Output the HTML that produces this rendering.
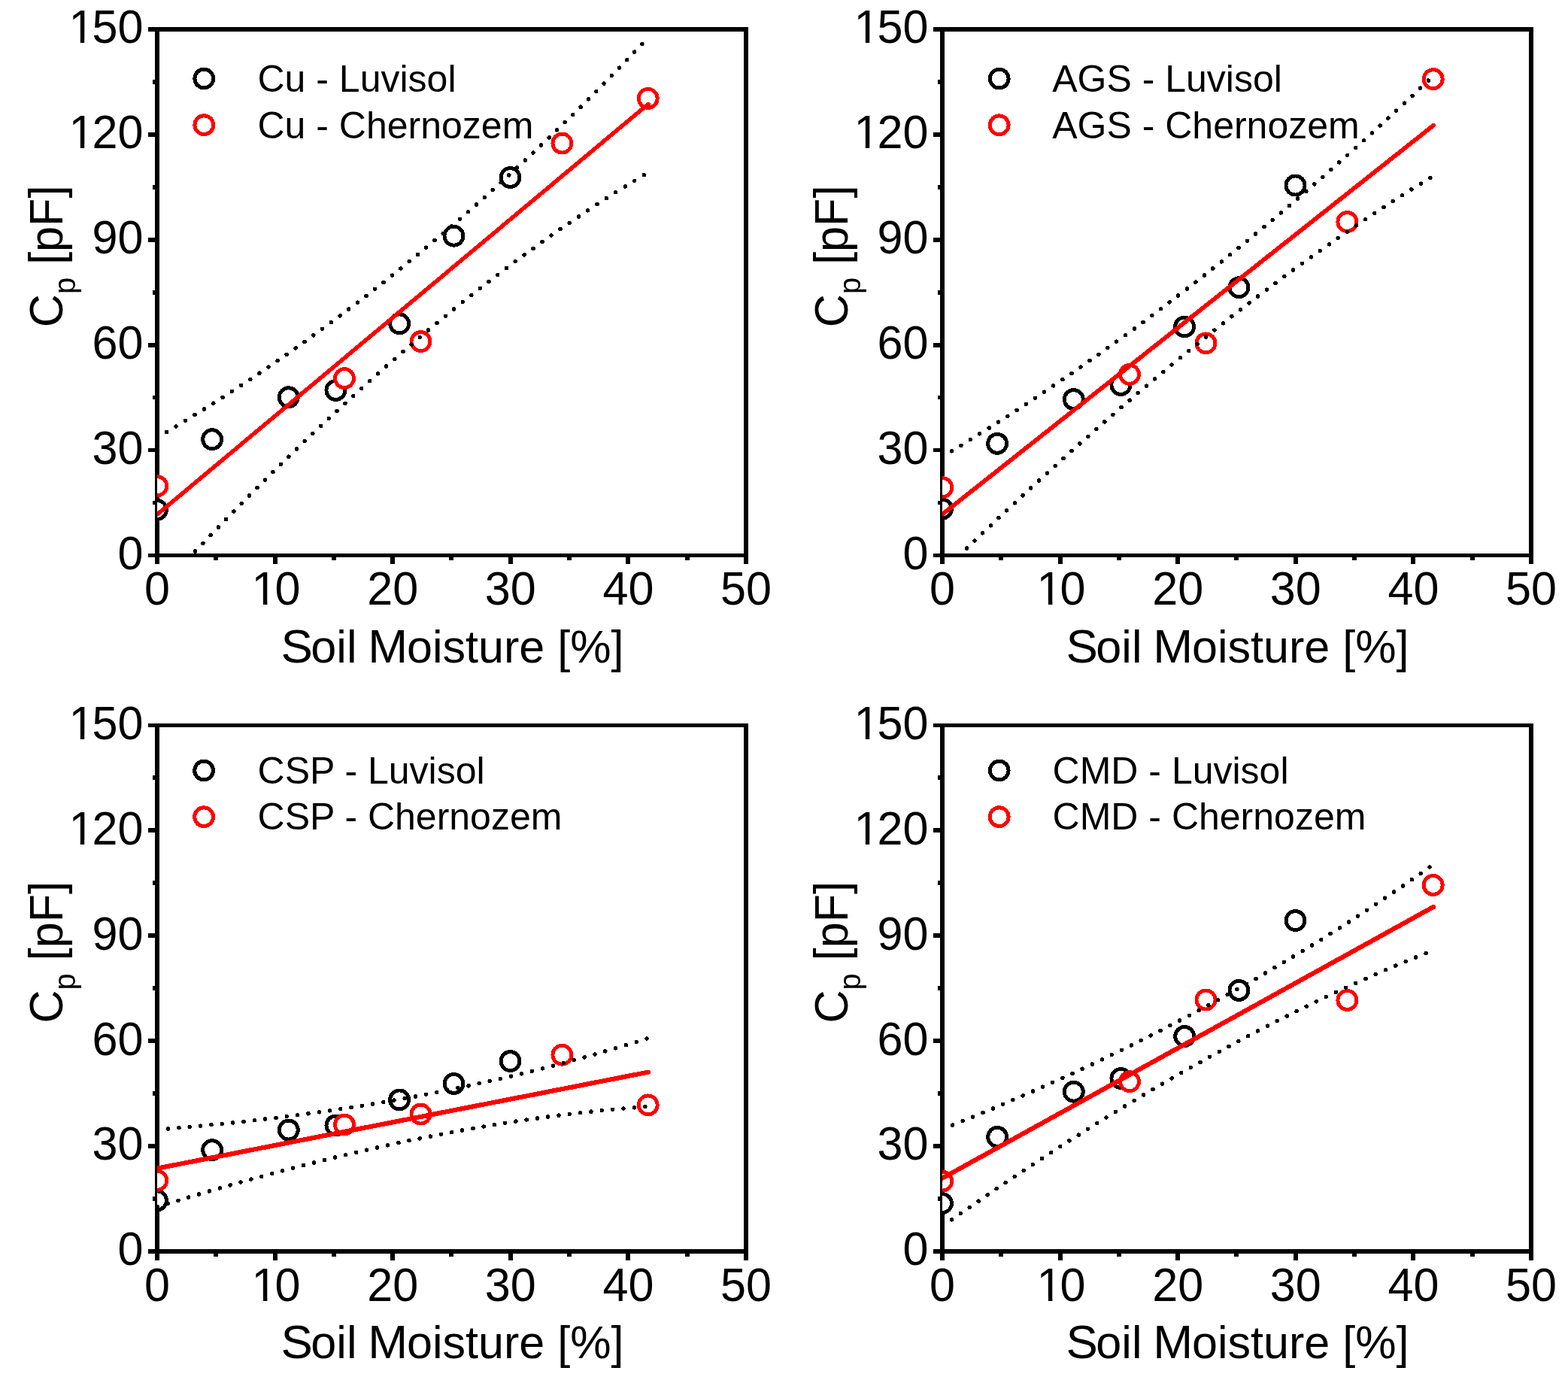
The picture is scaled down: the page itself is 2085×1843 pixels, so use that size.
<!DOCTYPE html>
<html lang="en"><head><meta charset="utf-8"><title>Cp vs Soil Moisture</title>
<style>html,body{margin:0;padding:0;background:#fff}svg{display:block}text{font-family:"Liberation Sans",Arial,Helvetica,sans-serif;fill:#000}</style></head><body>
<svg width="2085" height="1843" viewBox="0 0 2085 1843">
<rect width="2085" height="1843" fill="#fff"/>
<g id="panel-cu">
<path d="M206 36H212V741H206ZM989 36H995V741H989ZM206 36H995V42H206ZM206 736H995V741H206ZM197 736H209V741H197ZM203 665.73H209V671.43H203ZM197 595.76H209V601.46H197ZM203 525.79H209V531.49H203ZM197 455.82H209V461.52H197ZM203 385.85H209V391.55H203ZM197 315.88H209V321.58H197ZM203 245.91H209V251.61H203ZM197 175.94H209V181.64H197ZM203 105.97H209V111.67H203ZM197 36H209V42H197ZM206 736H212V750H206ZM284 736H290V745H284ZM363 736H369V750H363ZM441 736H447V745H441ZM519 736H525V750H519ZM597 736H603V745H597ZM676 736H682V750H676ZM754 736H760V745H754ZM832 736H838V750H832ZM911 736H917V745H911ZM989 736H995V750H989Z" fill="#000" shape-rendering="crispEdges"/>
<clipPath id="c1"><rect x="209" y="39" width="783" height="699.7"/></clipPath>
<g clip-path="url(#c1)" shape-rendering="crispEdges">
<circle cx="209" cy="677.99" r="12.5" fill="#fff" stroke="#000" stroke-width="4.9"/>
<circle cx="282.13" cy="584.23" r="12.5" fill="#fff" stroke="#000" stroke-width="4.9"/>
<circle cx="383.77" cy="528.26" r="12.5" fill="#fff" stroke="#000" stroke-width="4.9"/>
<circle cx="446.41" cy="518.93" r="12.5" fill="#fff" stroke="#000" stroke-width="4.9"/>
<circle cx="531.13" cy="430.3" r="12.5" fill="#fff" stroke="#000" stroke-width="4.9"/>
<circle cx="603.48" cy="313.68" r="12.5" fill="#fff" stroke="#000" stroke-width="4.9"/>
<circle cx="678.49" cy="236.02" r="12.5" fill="#fff" stroke="#000" stroke-width="4.9"/>
<circle cx="209.31" cy="646.27" r="12.5" fill="#fff" stroke="#f00" stroke-width="4.9"/>
<circle cx="457.99" cy="503.07" r="12.5" fill="#fff" stroke="#f00" stroke-width="4.9"/>
<circle cx="559.47" cy="454.09" r="12.5" fill="#fff" stroke="#f00" stroke-width="4.9"/>
<circle cx="747.39" cy="190.54" r="12.5" fill="#fff" stroke="#f00" stroke-width="4.9"/>
<circle cx="861.71" cy="130.83" r="12.5" fill="#fff" stroke="#f00" stroke-width="4.9"/>
<path d="M209 684.12L862.02 138.36" stroke="#f00" stroke-width="5.5" stroke-linecap="round" fill="none"/>
<path d="M209 581.81L222.09 574.09L235.19 566.27L248.28 558.33L261.37 550.28L274.47 542.12L287.56 533.84L300.65 525.45L313.75 516.94L326.84 508.32L339.93 499.59L353.02 490.73L366.12 481.76L379.21 472.67L392.3 463.46L405.4 454.14L418.49 444.69L431.58 435.13L444.68 425.44L457.77 415.63L470.86 405.7L483.96 395.65L497.05 385.47L510.14 375.17L523.24 364.74L536.33 354.2L549.42 343.52L562.52 332.72L575.61 321.79L588.7 310.73L601.8 299.55L614.89 288.24L627.98 276.8L641.07 265.22L654.17 253.52L667.26 241.69L680.35 229.72L693.45 217.63L706.54 205.4L719.63 193.03L732.73 180.53L745.82 167.9L758.91 155.14L772.01 142.23L785.1 129.19L798.19 116.02L811.29 102.7L824.38 89.25L837.47 75.66L850.57 61.93L862.02 49.8" stroke="#000" stroke-width="5.5" stroke-linecap="round" stroke-dasharray="0 14.620" stroke-dashoffset="0.11" fill="none"/>
<path d="M209 787.36L222.09 773.19L235.19 759.13L248.28 745.18L261.37 731.34L274.47 717.6L287.56 703.98L300.65 690.46L313.75 677.06L326.84 663.78L339.93 650.6L353.02 637.54L366.12 624.6L379.21 611.78L392.3 599.07L405.4 586.48L418.49 574.01L431.58 561.67L444.68 549.44L457.77 537.34L470.86 525.36L483.96 513.5L497.05 501.78L510.14 490.17L523.24 478.7L536.33 467.35L549.42 456.14L562.52 445.05L575.61 434.1L588.7 423.27L601.8 412.58L614.89 402.03L627.98 391.61L641.07 381.33L654.17 371.18L667.26 361.17L680.35 351.3L693.45 341.57L706.54 331.99L719.63 322.54L732.73 313.24L745.82 304.08L758.91 295.06L772.01 286.19L785.1 277.47L798.19 268.9L811.29 260.47L824.38 252.19L837.47 244.07L850.57 236.09L862.02 229.24" stroke="#000" stroke-width="5.5" stroke-linecap="round" stroke-dasharray="0 14.738" stroke-dashoffset="14.11" fill="none"/>
</g>
<text transform="translate(190.4 757.1) scale(1 1.03)" font-size="61.1" text-anchor="end">0</text>
<text transform="translate(190.4 617.16) scale(1 1.03)" font-size="61.1" text-anchor="end">30</text>
<text transform="translate(190.4 477.22) scale(1 1.03)" font-size="61.1" text-anchor="end">60</text>
<text transform="translate(190.4 337.28) scale(1 1.03)" font-size="61.1" text-anchor="end">90</text>
<text transform="translate(88.46 197.34) scale(1 1.03)" font-size="61.1"><tspan dx="3.0">1</tspan><tspan dx="-3.0">20</tspan></text>
<path d="M92.46 192.04H106.82V198.34H92.46ZM112.22 192.04H123.64V198.34H112.22Z" fill="#fff"/>
<text transform="translate(88.46 57.4) scale(1 1.03)" font-size="61.1"><tspan dx="3.0">1</tspan><tspan dx="-3.0">50</tspan></text>
<path d="M92.46 52.1H106.82V58.4H92.46ZM112.22 52.1H123.64V58.4H112.22Z" fill="#fff"/>
<text transform="translate(209 804.1) scale(1 1.03)" font-size="61.1" text-anchor="middle">0</text>
<text transform="translate(331.62 804.1) scale(1 1.03)" font-size="61.1"><tspan dx="3.0">1</tspan><tspan dx="-3.0">0</tspan></text>
<path d="M335.62 798.8H349.98V805.1H335.62ZM355.38 798.8H366.8V805.1H355.38Z" fill="#fff"/>
<text transform="translate(522.2 804.1) scale(1 1.03)" font-size="61.1" text-anchor="middle">20</text>
<text transform="translate(678.8 804.1) scale(1 1.03)" font-size="61.1" text-anchor="middle">30</text>
<text transform="translate(835.4 804.1) scale(1 1.03)" font-size="61.1" text-anchor="middle">40</text>
<text transform="translate(992 804.1) scale(1 1.03)" font-size="61.1" text-anchor="middle">50</text>
<text transform="translate(371.3 880.9)" font-size="61.1"><tspan dx="2.1" font-size="63.5">S</tspan><tspan dx="-2.4">oil </tspan><tspan dx="-2.1" font-size="63.5">M</tspan><tspan dx="-1.3">oisture [%]</tspan></text>
<text transform="translate(83 435.2) rotate(-90) scale(1 1.02)" font-size="61.1">C<tspan font-size="40.0" dy="17">p</tspan><tspan dy="-17"> [pF]</tspan></text>
<circle cx="271.3" cy="104.5" r="12.4" fill="#fff" stroke="#000" stroke-width="5" shape-rendering="crispEdges"/>
<circle cx="271.3" cy="166.2" r="12.4" fill="#fff" stroke="#f00" stroke-width="5" shape-rendering="crispEdges"/>
<text transform="translate(342.5 122.2)" font-size="50.0">Cu - Luvisol</text>
<text transform="translate(342.5 183.8)" font-size="50.0">Cu - Chernozem</text>
</g>
<g id="panel-ags">
<path d="M1250 36H1256V741H1250ZM2033 36H2039V741H2033ZM1250 36H2039V42H1250ZM1250 736H2039V741H1250ZM1241 736H1253V741H1241ZM1247 665.73H1253V671.43H1247ZM1241 595.76H1253V601.46H1241ZM1247 525.79H1253V531.49H1247ZM1241 455.82H1253V461.52H1241ZM1247 385.85H1253V391.55H1247ZM1241 315.88H1253V321.58H1241ZM1247 245.91H1253V251.61H1247ZM1241 175.94H1253V181.64H1241ZM1247 105.97H1253V111.67H1247ZM1241 36H1253V42H1241ZM1250 736H1256V750H1250ZM1328 736H1334V745H1328ZM1407 736H1413V750H1407ZM1485 736H1491V745H1485ZM1563 736H1569V750H1563ZM1641 736H1647V745H1641ZM1720 736H1726V750H1720ZM1798 736H1804V745H1798ZM1876 736H1882V750H1876ZM1955 736H1961V745H1955ZM2033 736H2039V750H2033Z" fill="#000" shape-rendering="crispEdges"/>
<clipPath id="c2"><rect x="1253" y="39" width="783" height="699.7"/></clipPath>
<g clip-path="url(#c2)" shape-rendering="crispEdges">
<circle cx="1253" cy="676.59" r="12.5" fill="#fff" stroke="#000" stroke-width="4.9"/>
<circle cx="1326.13" cy="589.83" r="12.5" fill="#fff" stroke="#000" stroke-width="4.9"/>
<circle cx="1427.77" cy="531.06" r="12.5" fill="#fff" stroke="#000" stroke-width="4.9"/>
<circle cx="1490.41" cy="511.93" r="12.5" fill="#fff" stroke="#000" stroke-width="4.9"/>
<circle cx="1575.13" cy="434.5" r="12.5" fill="#fff" stroke="#000" stroke-width="4.9"/>
<circle cx="1647.48" cy="382.25" r="12.5" fill="#fff" stroke="#000" stroke-width="4.9"/>
<circle cx="1722.49" cy="246.51" r="12.5" fill="#fff" stroke="#000" stroke-width="4.9"/>
<circle cx="1253.31" cy="648.14" r="12.5" fill="#fff" stroke="#f00" stroke-width="4.9"/>
<circle cx="1501.99" cy="497.94" r="12.5" fill="#fff" stroke="#f00" stroke-width="4.9"/>
<circle cx="1603.47" cy="456.42" r="12.5" fill="#fff" stroke="#f00" stroke-width="4.9"/>
<circle cx="1791.39" cy="295.02" r="12.5" fill="#fff" stroke="#f00" stroke-width="4.9"/>
<circle cx="1905.71" cy="105.17" r="12.5" fill="#fff" stroke="#f00" stroke-width="4.9"/>
<path d="M1253 683.89L1906.02 166.81" stroke="#f00" stroke-width="5.8" stroke-linecap="round" fill="none"/>
<path d="M1253 607.26L1266.09 599.39L1279.19 591.42L1292.28 583.36L1305.37 575.21L1318.47 566.97L1331.56 558.63L1344.65 550.21L1357.75 541.68L1370.84 533.07L1383.93 524.36L1397.02 515.56L1410.12 506.66L1423.21 497.67L1436.3 488.59L1449.4 479.42L1462.49 470.15L1475.58 460.79L1488.68 451.33L1501.77 441.79L1514.86 432.14L1527.96 422.41L1541.05 412.58L1554.14 402.66L1567.24 392.64L1580.33 382.53L1593.42 372.32L1606.52 362.03L1619.61 351.63L1632.7 341.15L1645.8 330.57L1658.89 319.89L1671.98 309.13L1685.07 298.26L1698.17 287.31L1711.26 276.26L1724.35 265.11L1737.45 253.87L1750.54 242.54L1763.63 231.11L1776.73 219.59L1789.82 207.98L1802.91 196.27L1816.01 184.46L1829.1 172.56L1842.19 160.57L1855.29 148.48L1868.38 136.29L1881.47 124.01L1894.57 111.64L1906.02 100.73" stroke="#000" stroke-width="5.5" stroke-linecap="round" stroke-dasharray="0 14.626" stroke-dashoffset="0.16" fill="none"/>
<path d="M1253 760.31L1266.09 747.64L1279.19 735.04L1292.28 722.51L1305.37 710.05L1318.47 697.66L1331.56 685.35L1344.65 673.11L1357.75 660.94L1370.84 648.86L1383.93 636.85L1397.02 624.91L1410.12 613.06L1423.21 601.29L1436.3 589.61L1449.4 578L1462.49 566.48L1475.58 555.05L1488.68 543.7L1501.77 532.44L1514.86 521.27L1527.96 510.19L1541.05 499.2L1554.14 488.3L1567.24 477.49L1580.33 466.78L1593.42 456.17L1606.52 445.65L1619.61 435.23L1632.7 424.91L1645.8 414.68L1658.89 404.56L1671.98 394.54L1685.07 384.63L1698.17 374.81L1711.26 365.11L1724.35 355.51L1737.45 346.02L1750.54 336.63L1763.63 327.36L1776.73 318.2L1789.82 309.14L1802.91 300.21L1816.01 291.38L1829.1 282.67L1842.19 274.08L1855.29 265.61L1868.38 257.25L1881.47 249.02L1894.57 240.9L1906.02 233.9" stroke="#000" stroke-width="5.5" stroke-linecap="round" stroke-dasharray="0 14.640" stroke-dashoffset="13.56" fill="none"/>
</g>
<text transform="translate(1234.4 757.1) scale(1 1.03)" font-size="61.1" text-anchor="end">0</text>
<text transform="translate(1234.4 617.16) scale(1 1.03)" font-size="61.1" text-anchor="end">30</text>
<text transform="translate(1234.4 477.22) scale(1 1.03)" font-size="61.1" text-anchor="end">60</text>
<text transform="translate(1234.4 337.28) scale(1 1.03)" font-size="61.1" text-anchor="end">90</text>
<text transform="translate(1132.46 197.34) scale(1 1.03)" font-size="61.1"><tspan dx="3.0">1</tspan><tspan dx="-3.0">20</tspan></text>
<path d="M1136.46 192.04H1150.82V198.34H1136.46ZM1156.22 192.04H1167.64V198.34H1156.22Z" fill="#fff"/>
<text transform="translate(1132.46 57.4) scale(1 1.03)" font-size="61.1"><tspan dx="3.0">1</tspan><tspan dx="-3.0">50</tspan></text>
<path d="M1136.46 52.1H1150.82V58.4H1136.46ZM1156.22 52.1H1167.64V58.4H1156.22Z" fill="#fff"/>
<text transform="translate(1253 804.1) scale(1 1.03)" font-size="61.1" text-anchor="middle">0</text>
<text transform="translate(1375.62 804.1) scale(1 1.03)" font-size="61.1"><tspan dx="3.0">1</tspan><tspan dx="-3.0">0</tspan></text>
<path d="M1379.62 798.8H1393.98V805.1H1379.62ZM1399.38 798.8H1410.8V805.1H1399.38Z" fill="#fff"/>
<text transform="translate(1566.2 804.1) scale(1 1.03)" font-size="61.1" text-anchor="middle">20</text>
<text transform="translate(1722.8 804.1) scale(1 1.03)" font-size="61.1" text-anchor="middle">30</text>
<text transform="translate(1879.4 804.1) scale(1 1.03)" font-size="61.1" text-anchor="middle">40</text>
<text transform="translate(2036 804.1) scale(1 1.03)" font-size="61.1" text-anchor="middle">50</text>
<text transform="translate(1415.3 880.9)" font-size="61.1"><tspan dx="2.1" font-size="63.5">S</tspan><tspan dx="-2.4">oil </tspan><tspan dx="-2.1" font-size="63.5">M</tspan><tspan dx="-1.3">oisture [%]</tspan></text>
<text transform="translate(1127 435.2) rotate(-90) scale(1 1.02)" font-size="61.1">C<tspan font-size="40.0" dy="17">p</tspan><tspan dy="-17"> [pF]</tspan></text>
<circle cx="1328.7" cy="104.6" r="12.4" fill="#fff" stroke="#000" stroke-width="5" shape-rendering="crispEdges"/>
<circle cx="1328.7" cy="166.3" r="12.4" fill="#fff" stroke="#f00" stroke-width="5" shape-rendering="crispEdges"/>
<text transform="translate(1399.2 122)" font-size="50.0">AGS - Luvisol</text>
<text transform="translate(1399.2 183.6)" font-size="50.0">AGS - Chernozem</text>
</g>
<g id="panel-csp">
<path d="M206 962H212V1667H206ZM989 962H995V1667H989ZM206 962H995V967H206ZM206 1661H995V1667H206ZM197 1661H209V1667H197ZM203 1591.03H209V1596.73H203ZM197 1521.06H209V1526.76H197ZM203 1451.09H209V1456.79H203ZM197 1381.12H209V1386.82H197ZM203 1311.15H209V1316.85H203ZM197 1241.18H209V1246.88H197ZM203 1171.21H209V1176.91H203ZM197 1101.24H209V1106.94H197ZM203 1031.27H209V1036.97H203ZM197 962H209V967H197ZM206 1661H212V1676H206ZM284 1661H290V1671H284ZM363 1661H369V1676H363ZM441 1661H447V1671H441ZM519 1661H525V1676H519ZM597 1661H603V1671H597ZM676 1661H682V1676H676ZM754 1661H760V1671H754ZM832 1661H838V1676H832ZM911 1661H917V1671H911ZM989 1661H995V1676H989Z" fill="#000" shape-rendering="crispEdges"/>
<clipPath id="c3"><rect x="209" y="964.3" width="783" height="699.7"/></clipPath>
<g clip-path="url(#c3)" shape-rendering="crispEdges">
<circle cx="209" cy="1596.3" r="12.5" fill="#fff" stroke="#000" stroke-width="4.9"/>
<circle cx="282.13" cy="1529.12" r="12.5" fill="#fff" stroke="#000" stroke-width="4.9"/>
<circle cx="383.77" cy="1502.54" r="12.5" fill="#fff" stroke="#000" stroke-width="4.9"/>
<circle cx="446.41" cy="1496.47" r="12.5" fill="#fff" stroke="#000" stroke-width="4.9"/>
<circle cx="531.13" cy="1462.42" r="12.5" fill="#fff" stroke="#000" stroke-width="4.9"/>
<circle cx="603.48" cy="1440.96" r="12.5" fill="#fff" stroke="#000" stroke-width="4.9"/>
<circle cx="678.49" cy="1411.11" r="12.5" fill="#fff" stroke="#000" stroke-width="4.9"/>
<circle cx="209.31" cy="1569.71" r="12.5" fill="#fff" stroke="#f00" stroke-width="4.9"/>
<circle cx="457.99" cy="1495.54" r="12.5" fill="#fff" stroke="#f00" stroke-width="4.9"/>
<circle cx="559.47" cy="1481.55" r="12.5" fill="#fff" stroke="#f00" stroke-width="4.9"/>
<circle cx="747.39" cy="1402.71" r="12.5" fill="#fff" stroke="#f00" stroke-width="4.9"/>
<circle cx="861.71" cy="1469.42" r="12.5" fill="#fff" stroke="#f00" stroke-width="4.9"/>
<path d="M209 1553.68L862.02 1425.64" stroke="#f00" stroke-width="6.2" stroke-linecap="round" fill="none"/>
<path d="M209 1502.14L222.09 1501.09L235.19 1499.99L248.28 1498.86L261.37 1497.67L274.47 1496.44L287.56 1495.17L300.65 1493.84L313.75 1492.47L326.84 1491.05L339.93 1489.58L353.02 1488.05L366.12 1486.48L379.21 1484.85L392.3 1483.17L405.4 1481.44L418.49 1479.65L431.58 1477.8L444.68 1475.9L457.77 1473.94L470.86 1471.92L483.96 1469.84L497.05 1467.71L510.14 1465.51L523.24 1463.24L536.33 1460.92L549.42 1458.53L562.52 1456.08L575.61 1453.56L588.7 1450.97L601.8 1448.32L614.89 1445.6L627.98 1442.81L641.07 1439.95L654.17 1437.02L667.26 1434.02L680.35 1430.95L693.45 1427.8L706.54 1424.58L719.63 1421.28L732.73 1417.91L745.82 1414.46L758.91 1410.93L772.01 1407.33L785.1 1403.64L798.19 1399.88L811.29 1396.04L824.38 1392.11L837.47 1388.1L850.57 1384L862.02 1380.35" stroke="#000" stroke-width="5.5" stroke-linecap="round" stroke-dasharray="0 14.425" stroke-dashoffset="14.30" fill="none"/>
<path d="M209 1604.76L222.09 1600.73L235.19 1596.75L248.28 1592.81L261.37 1588.91L274.47 1585.05L287.56 1581.24L300.65 1577.47L313.75 1573.75L326.84 1570.07L339.93 1566.44L353.02 1562.87L366.12 1559.34L379.21 1555.86L392.3 1552.43L405.4 1549.06L418.49 1545.74L431.58 1542.47L444.68 1539.26L457.77 1536.11L470.86 1533.01L483.96 1529.97L497.05 1526.99L510.14 1524.07L523.24 1521.21L536.33 1518.41L549.42 1515.67L562.52 1513L575.61 1510.4L588.7 1507.85L601.8 1505.38L614.89 1502.97L627.98 1500.63L641.07 1498.36L654.17 1496.16L667.26 1494.03L680.35 1491.97L693.45 1489.99L706.54 1488.08L719.63 1486.24L732.73 1484.48L745.82 1482.8L758.91 1481.19L772.01 1479.66L785.1 1478.22L798.19 1476.85L811.29 1475.56L824.38 1474.36L837.47 1473.24L850.57 1472.2L862.02 1471.36" stroke="#000" stroke-width="5.5" stroke-linecap="round" stroke-dasharray="0 14.422" stroke-dashoffset="14.09" fill="none"/>
</g>
<text transform="translate(190.4 1682.4) scale(1 1.03)" font-size="61.1" text-anchor="end">0</text>
<text transform="translate(190.4 1542.46) scale(1 1.03)" font-size="61.1" text-anchor="end">30</text>
<text transform="translate(190.4 1402.52) scale(1 1.03)" font-size="61.1" text-anchor="end">60</text>
<text transform="translate(190.4 1262.58) scale(1 1.03)" font-size="61.1" text-anchor="end">90</text>
<text transform="translate(88.46 1122.64) scale(1 1.03)" font-size="61.1"><tspan dx="3.0">1</tspan><tspan dx="-3.0">20</tspan></text>
<path d="M92.46 1117.34H106.82V1123.64H92.46ZM112.22 1117.34H123.64V1123.64H112.22Z" fill="#fff"/>
<text transform="translate(88.46 982.7) scale(1 1.03)" font-size="61.1"><tspan dx="3.0">1</tspan><tspan dx="-3.0">50</tspan></text>
<path d="M92.46 977.4H106.82V983.7H92.46ZM112.22 977.4H123.64V983.7H112.22Z" fill="#fff"/>
<text transform="translate(209 1730.1) scale(1 1.03)" font-size="61.1" text-anchor="middle">0</text>
<text transform="translate(331.62 1730.1) scale(1 1.03)" font-size="61.1"><tspan dx="3.0">1</tspan><tspan dx="-3.0">0</tspan></text>
<path d="M335.62 1724.8H349.98V1731.1H335.62ZM355.38 1724.8H366.8V1731.1H355.38Z" fill="#fff"/>
<text transform="translate(522.2 1730.1) scale(1 1.03)" font-size="61.1" text-anchor="middle">20</text>
<text transform="translate(678.8 1730.1) scale(1 1.03)" font-size="61.1" text-anchor="middle">30</text>
<text transform="translate(835.4 1730.1) scale(1 1.03)" font-size="61.1" text-anchor="middle">40</text>
<text transform="translate(992 1730.1) scale(1 1.03)" font-size="61.1" text-anchor="middle">50</text>
<text transform="translate(371.3 1806)" font-size="61.1"><tspan dx="2.1" font-size="63.5">S</tspan><tspan dx="-2.4">oil </tspan><tspan dx="-2.1" font-size="63.5">M</tspan><tspan dx="-1.3">oisture [%]</tspan></text>
<text transform="translate(83 1360.5) rotate(-90) scale(1 1.02)" font-size="61.1">C<tspan font-size="40.0" dy="17">p</tspan><tspan dy="-17"> [pF]</tspan></text>
<circle cx="271.1" cy="1024.5" r="12.4" fill="#fff" stroke="#000" stroke-width="5" shape-rendering="crispEdges"/>
<circle cx="271.1" cy="1086.2" r="12.4" fill="#fff" stroke="#f00" stroke-width="5" shape-rendering="crispEdges"/>
<text transform="translate(342.6 1041.8)" font-size="50.0">CSP - Luvisol</text>
<text transform="translate(342.6 1103.4)" font-size="50.0">CSP - Chernozem</text>
</g>
<g id="panel-cmd">
<path d="M1250 962H1256V1667H1250ZM2033 962H2039V1667H2033ZM1250 962H2039V967H1250ZM1250 1661H2039V1667H1250ZM1241 1661H1253V1667H1241ZM1247 1591.03H1253V1596.73H1247ZM1241 1521.06H1253V1526.76H1241ZM1247 1451.09H1253V1456.79H1247ZM1241 1381.12H1253V1386.82H1241ZM1247 1311.15H1253V1316.85H1247ZM1241 1241.18H1253V1246.88H1241ZM1247 1171.21H1253V1176.91H1247ZM1241 1101.24H1253V1106.94H1241ZM1247 1031.27H1253V1036.97H1247ZM1241 962H1253V967H1241ZM1250 1661H1256V1676H1250ZM1328 1661H1334V1671H1328ZM1407 1661H1413V1676H1407ZM1485 1661H1491V1671H1485ZM1563 1661H1569V1676H1563ZM1641 1661H1647V1671H1641ZM1720 1661H1726V1676H1720ZM1798 1661H1804V1671H1798ZM1876 1661H1882V1676H1876ZM1955 1661H1961V1671H1955ZM2033 1661H2039V1676H2033Z" fill="#000" shape-rendering="crispEdges"/>
<clipPath id="c4"><rect x="1253" y="964.3" width="783" height="699.7"/></clipPath>
<g clip-path="url(#c4)" shape-rendering="crispEdges">
<circle cx="1253" cy="1600.03" r="12.5" fill="#fff" stroke="#000" stroke-width="4.9"/>
<circle cx="1326.13" cy="1511.87" r="12.5" fill="#fff" stroke="#000" stroke-width="4.9"/>
<circle cx="1427.77" cy="1451.69" r="12.5" fill="#fff" stroke="#000" stroke-width="4.9"/>
<circle cx="1490.41" cy="1433.97" r="12.5" fill="#fff" stroke="#000" stroke-width="4.9"/>
<circle cx="1575.13" cy="1377.99" r="12.5" fill="#fff" stroke="#000" stroke-width="4.9"/>
<circle cx="1647.48" cy="1316.88" r="12.5" fill="#fff" stroke="#000" stroke-width="4.9"/>
<circle cx="1722.49" cy="1224.06" r="12.5" fill="#fff" stroke="#000" stroke-width="4.9"/>
<circle cx="1253.31" cy="1570.64" r="12.5" fill="#fff" stroke="#f00" stroke-width="4.9"/>
<circle cx="1501.99" cy="1438.16" r="12.5" fill="#fff" stroke="#f00" stroke-width="4.9"/>
<circle cx="1603.47" cy="1329.48" r="12.5" fill="#fff" stroke="#f00" stroke-width="4.9"/>
<circle cx="1791.39" cy="1329.94" r="12.5" fill="#fff" stroke="#f00" stroke-width="4.9"/>
<circle cx="1905.71" cy="1176.94" r="12.5" fill="#fff" stroke="#f00" stroke-width="4.9"/>
<path d="M1253 1566.74L1906.02 1205.93" stroke="#f00" stroke-width="6.2" stroke-linecap="round" fill="none"/>
<path d="M1253 1501.63L1266.09 1496.36L1279.19 1491.04L1292.28 1485.66L1305.37 1480.23L1318.47 1474.74L1331.56 1469.18L1344.65 1463.57L1357.75 1457.9L1370.84 1452.16L1383.93 1446.36L1397.02 1440.5L1410.12 1434.57L1423.21 1428.57L1436.3 1422.5L1449.4 1416.37L1462.49 1410.16L1475.58 1403.88L1488.68 1397.52L1501.77 1391.1L1514.86 1384.59L1527.96 1378.01L1541.05 1371.35L1554.14 1364.61L1567.24 1357.79L1580.33 1350.89L1593.42 1343.91L1606.52 1336.84L1619.61 1329.68L1632.7 1322.44L1645.8 1315.11L1658.89 1307.7L1671.98 1300.19L1685.07 1292.59L1698.17 1284.9L1711.26 1277.11L1724.35 1269.23L1737.45 1261.25L1750.54 1253.18L1763.63 1245L1776.73 1236.73L1789.82 1228.36L1802.91 1219.88L1816.01 1211.3L1829.1 1202.62L1842.19 1193.83L1855.29 1184.93L1868.38 1175.93L1881.47 1166.81L1894.57 1157.59L1906.02 1149.42" stroke="#000" stroke-width="5.5" stroke-linecap="round" stroke-dasharray="0 14.455" stroke-dashoffset="14.03" fill="none"/>
<path d="M1253 1630.6L1266.09 1621.4L1279.19 1612.26L1292.28 1603.19L1305.37 1594.18L1318.47 1585.23L1331.56 1576.35L1344.65 1567.54L1357.75 1558.79L1370.84 1550.11L1383.93 1541.5L1397.02 1532.96L1410.12 1524.49L1423.21 1516.09L1436.3 1507.77L1449.4 1499.51L1462.49 1491.33L1475.58 1483.22L1488.68 1475.19L1501.77 1467.24L1514.86 1459.36L1527.96 1451.56L1541.05 1443.84L1554.14 1436.2L1567.24 1428.64L1580.33 1421.16L1593.42 1413.76L1606.52 1406.44L1619.61 1399.21L1632.7 1392.07L1645.8 1385L1658.89 1378.03L1671.98 1371.14L1685.07 1364.34L1698.17 1357.63L1711.26 1351L1724.35 1344.47L1737.45 1338.03L1750.54 1331.68L1763.63 1325.42L1776.73 1319.26L1789.82 1313.19L1802.91 1307.22L1816.01 1301.34L1829.1 1295.56L1842.19 1289.87L1855.29 1284.29L1868.38 1278.81L1881.47 1273.42L1894.57 1268.14L1906.02 1263.6" stroke="#000" stroke-width="5.5" stroke-linecap="round" stroke-dasharray="0 14.501" stroke-dashoffset="13.85" fill="none"/>
</g>
<text transform="translate(1234.4 1682.4) scale(1 1.03)" font-size="61.1" text-anchor="end">0</text>
<text transform="translate(1234.4 1542.46) scale(1 1.03)" font-size="61.1" text-anchor="end">30</text>
<text transform="translate(1234.4 1402.52) scale(1 1.03)" font-size="61.1" text-anchor="end">60</text>
<text transform="translate(1234.4 1262.58) scale(1 1.03)" font-size="61.1" text-anchor="end">90</text>
<text transform="translate(1132.46 1122.64) scale(1 1.03)" font-size="61.1"><tspan dx="3.0">1</tspan><tspan dx="-3.0">20</tspan></text>
<path d="M1136.46 1117.34H1150.82V1123.64H1136.46ZM1156.22 1117.34H1167.64V1123.64H1156.22Z" fill="#fff"/>
<text transform="translate(1132.46 982.7) scale(1 1.03)" font-size="61.1"><tspan dx="3.0">1</tspan><tspan dx="-3.0">50</tspan></text>
<path d="M1136.46 977.4H1150.82V983.7H1136.46ZM1156.22 977.4H1167.64V983.7H1156.22Z" fill="#fff"/>
<text transform="translate(1253 1730.1) scale(1 1.03)" font-size="61.1" text-anchor="middle">0</text>
<text transform="translate(1375.62 1730.1) scale(1 1.03)" font-size="61.1"><tspan dx="3.0">1</tspan><tspan dx="-3.0">0</tspan></text>
<path d="M1379.62 1724.8H1393.98V1731.1H1379.62ZM1399.38 1724.8H1410.8V1731.1H1399.38Z" fill="#fff"/>
<text transform="translate(1566.2 1730.1) scale(1 1.03)" font-size="61.1" text-anchor="middle">20</text>
<text transform="translate(1722.8 1730.1) scale(1 1.03)" font-size="61.1" text-anchor="middle">30</text>
<text transform="translate(1879.4 1730.1) scale(1 1.03)" font-size="61.1" text-anchor="middle">40</text>
<text transform="translate(2036 1730.1) scale(1 1.03)" font-size="61.1" text-anchor="middle">50</text>
<text transform="translate(1415.3 1806)" font-size="61.1"><tspan dx="2.1" font-size="63.5">S</tspan><tspan dx="-2.4">oil </tspan><tspan dx="-2.1" font-size="63.5">M</tspan><tspan dx="-1.3">oisture [%]</tspan></text>
<text transform="translate(1127 1360.5) rotate(-90) scale(1 1.02)" font-size="61.1">C<tspan font-size="40.0" dy="17">p</tspan><tspan dy="-17"> [pF]</tspan></text>
<circle cx="1328.7" cy="1024.5" r="12.4" fill="#fff" stroke="#000" stroke-width="5" shape-rendering="crispEdges"/>
<circle cx="1328.7" cy="1086.2" r="12.4" fill="#fff" stroke="#f00" stroke-width="5" shape-rendering="crispEdges"/>
<text transform="translate(1399.6 1041.8)" font-size="50.0">CMD - Luvisol</text>
<text transform="translate(1399.6 1103.4)" font-size="50.0">CMD - Chernozem</text>
</g>
</svg></body></html>
